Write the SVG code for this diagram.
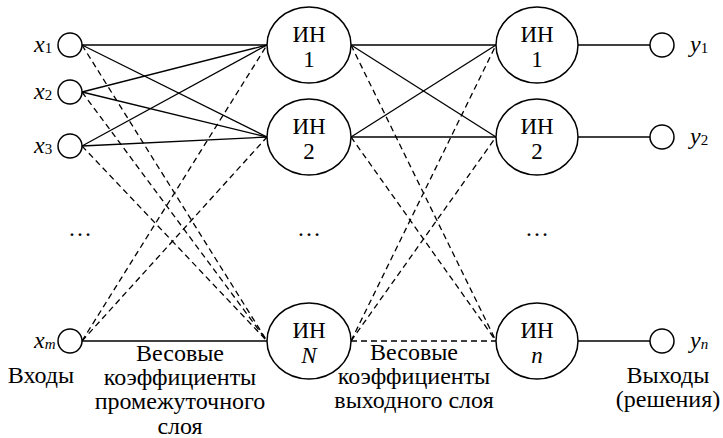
<svg xmlns="http://www.w3.org/2000/svg" width="723" height="438" viewBox="0 0 723 438">
<style>
.n{fill:#fff;stroke:#000;stroke-width:1.5}
.s{stroke:#000;stroke-width:1.3;fill:none}
.d{stroke:#000;stroke-width:1.3;fill:none;stroke-dasharray:6 4}
text{font-family:"Liberation Serif","Times New Roman",serif;fill:#000}
.lbl{font-size:24px;text-anchor:middle}
.nt{font-size:23px;text-anchor:middle}
.v{font-size:24px;font-style:italic}
.sub{font-size:15px}
</style>
<rect width="723" height="438" fill="#fff"/>
<g id="connectors">
<line class="s" x1="82" y1="45" x2="267" y2="45"/>
<line class="s" x1="82" y1="45" x2="267" y2="137"/>
<line class="d" x1="82" y1="45" x2="267" y2="341"/>
<line class="s" x1="82" y1="92" x2="267" y2="45"/>
<line class="s" x1="82" y1="92" x2="267" y2="137"/>
<line class="d" x1="82" y1="92" x2="267" y2="341"/>
<line class="s" x1="82" y1="146" x2="267" y2="45"/>
<line class="s" x1="82" y1="146" x2="267" y2="137"/>
<line class="d" x1="82" y1="146" x2="267" y2="341"/>
<line class="d" x1="82" y1="341" x2="267" y2="45"/>
<line class="d" x1="82" y1="341" x2="267" y2="137"/>
<line class="s" x1="82" y1="341" x2="267" y2="341"/>
<line class="s" x1="351" y1="45" x2="496" y2="45"/>
<line class="s" x1="351" y1="45" x2="496" y2="137"/>
<line class="d" x1="351" y1="45" x2="496" y2="341"/>
<line class="s" x1="351" y1="137" x2="496" y2="45"/>
<line class="s" x1="351" y1="137" x2="496" y2="137"/>
<line class="d" x1="351" y1="137" x2="496" y2="341"/>
<line class="d" x1="351" y1="341" x2="496" y2="45"/>
<line class="d" x1="351" y1="341" x2="496" y2="137"/>
<line class="d" x1="351" y1="341" x2="496" y2="341"/>
<line class="s" x1="578" y1="45" x2="650" y2="45"/>
<line class="s" x1="578" y1="137" x2="650" y2="137"/>
<line class="s" x1="578" y1="341" x2="650" y2="341"/>
</g>
<g id="x1"><circle class="n" cx="70" cy="45" r="12"/><text class="v" x="34" y="52">x<tspan class="sub" font-style="normal" dy="1">1</tspan></text></g>
<g id="x2"><circle class="n" cx="70" cy="92" r="12"/><text class="v" x="34" y="99">x<tspan class="sub" font-style="normal" dy="1">2</tspan></text></g>
<g id="x3"><circle class="n" cx="70" cy="146" r="12"/><text class="v" x="34" y="153">x<tspan class="sub" font-style="normal" dy="1">3</tspan></text></g>
<g id="xm"><circle class="n" cx="70" cy="341" r="12"/><text class="v" x="34" y="348">x<tspan class="sub" dy="1">m</tspan></text></g>
<g id="h1"><ellipse class="n" cx="309" cy="45" rx="42" ry="38"/><text class="nt" x="309" y="42">ИН</text><text class="nt" x="309" y="67">1</text></g>
<g id="h2"><ellipse class="n" cx="309" cy="137" rx="42" ry="38"/><text class="nt" x="309" y="134">ИН</text><text class="nt" x="309" y="159">2</text></g>
<g id="hN"><ellipse class="n" cx="309" cy="341" rx="42" ry="38"/><text class="nt" x="309" y="338">ИН</text><text class="nt" x="309" y="363" font-style="italic">N</text></g>
<g id="o1"><ellipse class="n" cx="537" cy="45" rx="41" ry="38"/><text class="nt" x="537" y="42">ИН</text><text class="nt" x="537" y="67">1</text></g>
<g id="o2"><ellipse class="n" cx="537" cy="137" rx="41" ry="38"/><text class="nt" x="537" y="134">ИН</text><text class="nt" x="537" y="159">2</text></g>
<g id="on"><ellipse class="n" cx="537" cy="341" rx="41" ry="38"/><text class="nt" x="537" y="338">ИН</text><text class="nt" x="537" y="363" font-style="italic">n</text></g>
<g id="y1"><circle class="n" cx="662" cy="45" r="12"/><text class="v" x="690" y="52">y<tspan class="sub" font-style="normal" dy="1">1</tspan></text></g>
<g id="y2"><circle class="n" cx="662" cy="137" r="12"/><text class="v" x="690" y="144">y<tspan class="sub" font-style="normal" dy="1">2</tspan></text></g>
<g id="yn"><circle class="n" cx="662" cy="341" r="12"/><text class="v" x="690" y="348">y<tspan class="sub" dy="1">n</tspan></text></g>
<g id="dots">
<text class="lbl" x="80" y="236">…</text>
<text class="lbl" x="309" y="236">…</text>
<text class="lbl" x="537" y="236">…</text>
</g>
<g id="labels">
<text class="lbl" x="41" y="383">Входы</text>
<text class="lbl" x="180" y="361">Весовые</text>
<text class="lbl" x="180" y="385">коэффициенты</text>
<text class="lbl" x="180" y="409">промежуточного</text>
<text class="lbl" x="180" y="434">слоя</text>
<text class="lbl" x="414" y="360">Весовые</text>
<text class="lbl" x="414" y="384">коэффициенты</text>
<text class="lbl" x="414" y="408">выходного слоя</text>
<text class="lbl" x="668" y="383">Выходы</text>
<text class="lbl" x="668" y="407">(решения)</text>
</g>
</svg>
